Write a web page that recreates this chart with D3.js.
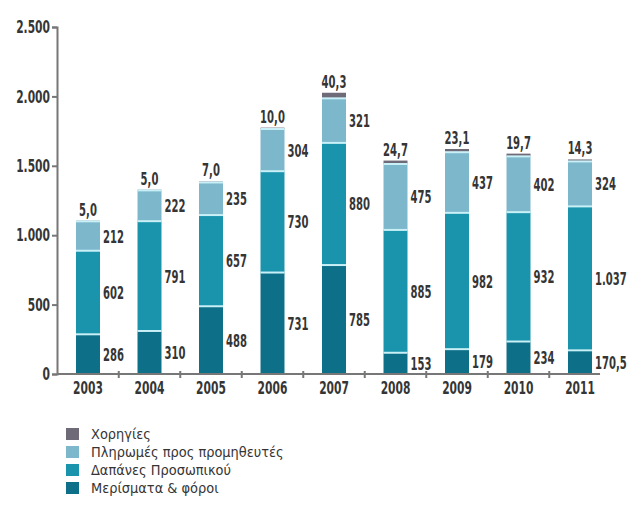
<!DOCTYPE html>
<html>
<head>
<meta charset="utf-8">
<script src="https://cdn.jsdelivr.net/npm/d3@7"></script>
<style>
  body { margin: 0; background: #fff; }
  text { font-family: "DejaVu Sans Condensed", "Liberation Sans Narrow", sans-serif; fill: #353535; }
</style>
</head>
<body>
<svg width="629" height="505"></svg>
<script>
// data (εκατ. ευρώ)
var years = ["2003","2004","2005","2006","2007","2008","2009","2010","2011"];
var merismata = [286, 310, 488, 731, 785, 153, 179, 234, 170.5];
var dapanes = [602, 791, 657, 730, 880, 885, 982, 932, 1037];
var pliromes = [212, 222, 235, 304, 321, 475, 437, 402, 324];
var xorigies = [5.0, 5.0, 7.0, 10.0, 40.3, 24.7, 23.1, 19.7, 14.3];
var yTicks = [0, 500, 1000, 1500, 2000, 2500];

var seriesNames = ["Μερίσματα & φόροι", "Δαπάνες Προσωπικού", "Πληρωμές προς προμηθευτές", "Χορηγίες"];
var colors = ["#0d6f88", "#1a93ad", "#7db7cc", "#6e6a78"];

var svg = d3.select("svg");
var SX = 0.62; // squeeze factor, the original uses a very narrow typeface

var gr = d3.formatLocale({decimal: ",", thousands: ".", grouping: [3], currency: ["", "€"]});
var fmtInt = gr.format(",.0f");
var fmt1 = gr.format(",.1f");

var x = d3.scaleBand().domain(years).range([57, 611]).paddingInner(0.61).paddingOuter(0.309);
var y = d3.scaleLinear().domain([0, 2500]).range([374, 27]);

var table = years.map(function(yr, i) {
  return {year: yr, s0: merismata[i], s1: dapanes[i], s2: pliromes[i], s3: xorigies[i]};
});
var stack = d3.stack().keys(["s0", "s1", "s2", "s3"])(table);

// bars
var layers = svg.append("g").selectAll("g")
  .data(stack)
  .enter().append("g")
    .attr("fill", function(d, i) { return colors[i]; });

layers.selectAll("rect")
  .data(function(d) { return d; })
  .enter().append("rect")
    .attr("x", function(d) { return x(d.data.year); })
    .attr("width", x.bandwidth())
    .attr("y", function(d) { return y(d[1]); })
    .attr("height", function(d) { return y(d[0]) - y(d[1]); });

// light separators between segments
svg.append("g").selectAll("g")
  .data(stack.slice(0, 3))
  .enter().append("g")
  .selectAll("line")
  .data(function(d) { return d; })
  .enter().append("line")
    .attr("x1", function(d) { return x(d.data.year); })
    .attr("x2", function(d) { return x(d.data.year) + x.bandwidth(); })
    .attr("y1", function(d) { return y(d[1]); })
    .attr("y2", function(d) { return y(d[1]); })
    .attr("stroke", "#c8f0f6")
    .attr("stroke-width", 2);

function label(v) { return v % 1 === 0 ? fmtInt(v) : fmt1(v); }

// value labels right of segments
svg.append("g").selectAll("g")
  .data(stack.slice(0, 3))
  .enter().append("g")
  .selectAll("text")
  .data(function(d) { return d; })
  .enter().append("text")
    .attr("transform", function(d) {
      return "translate(" + (x(d.data.year) + x.bandwidth() + 3) + "," + ((y(d[0]) + y(d[1])) / 2) + ") scale(" + SX + ",1)";
    })
    .attr("dy", "0.36em")
    .attr("font-size", 18)
    .attr("font-weight", "bold")
    .text(function(d) { return label(d[1] - d[0]); });

// Χορηγίες above bars
svg.append("g").selectAll("text")
  .data(stack[3])
  .enter().append("text")
    .attr("transform", function(d) {
      return "translate(" + (x(d.data.year) + x.bandwidth() / 2) + "," + (y(d[1]) - 5) + ") scale(" + SX + ",1)";
    })
    .attr("text-anchor", "middle")
    .attr("font-size", 18)
    .attr("font-weight", "bold")
    .text(function(d) { return fmt1(d[1] - d[0]); });

// y axis
var yAxis = svg.append("g")
  .attr("transform", "translate(57,0)")
  .call(d3.axisLeft(y).tickValues(yTicks).tickSize(5).tickFormat(fmtInt));
yAxis.select(".domain").attr("stroke", "#777").attr("stroke-width", 2);
yAxis.selectAll(".tick line").attr("stroke", "#777").attr("stroke-width", 2);
yAxis.selectAll(".tick text")
  .attr("x", -7 / 0.66)
  .attr("transform", "scale(0.66,1)")
  .attr("font-size", 18)
  .attr("font-weight", "bold")
  .style("font-family", "'DejaVu Sans Condensed', sans-serif")
  .attr("fill", "#353535");

// x axis
var xAxis = svg.append("g")
  .attr("transform", "translate(0,374)")
  .call(d3.axisBottom(x).tickSize(0).tickPadding(7));
xAxis.select(".domain").attr("d", "M57,0H600").attr("stroke", "#777").attr("stroke-width", 2);
xAxis.selectAll(".tick text")
  .attr("transform", "scale(0.66,1)")
  .attr("font-size", 18)
  .attr("font-weight", "bold")
  .style("font-family", "'DejaVu Sans Condensed', sans-serif")
  .attr("fill", "#353535");

// small ticks between the years
xAxis.selectAll(".sep")
  .data(years.slice(0, 8))
  .enter().append("line")
    .attr("x1", function(d) { return x(d) + x.bandwidth() / 2 + x.step() / 2; })
    .attr("x2", function(d) { return x(d) + x.bandwidth() / 2 + x.step() / 2; })
    .attr("y1", -3)
    .attr("y2", 4)
    .attr("stroke", "#777")
    .attr("stroke-width", 2);

// legend (top item first)
var legend = svg.append("g").attr("transform", "translate(66,428)");
var items = legend.selectAll("g")
  .data([3, 2, 1, 0])
  .enter().append("g")
    .attr("transform", function(d, i) { return "translate(0," + (i * 18) + ")"; });
items.append("rect")
  .attr("width", 13).attr("height", 12)
  .attr("fill", function(d) { return colors[d]; });
items.append("text")
  .attr("transform", "translate(25,6) scale(1.03,1)")
  .attr("dy", "0.36em")
  .attr("font-size", 14)
  .text(function(d) { return seriesNames[d]; });
</script>
</body>
</html>
